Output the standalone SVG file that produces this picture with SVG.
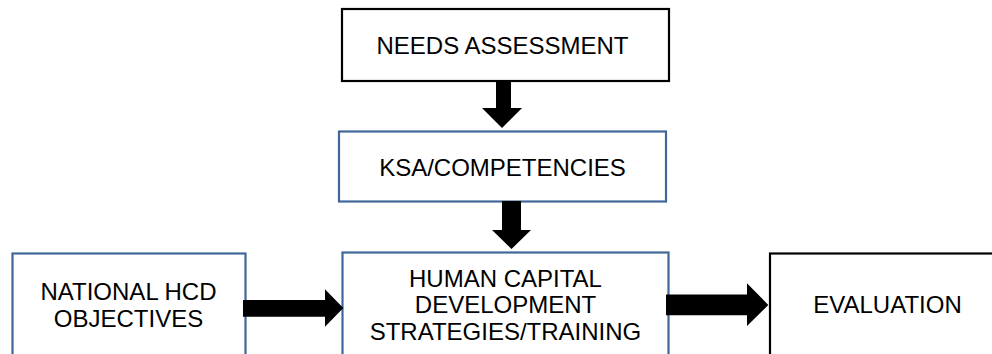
<svg xmlns="http://www.w3.org/2000/svg" width="992" height="354" viewBox="0 0 992 354">
<style>
.box{fill:#fff;stroke-width:2.2}
.blk{stroke:#000}
.blu{stroke:#41679A}
text{font-family:"Liberation Sans",Arial,sans-serif;font-size:24px;fill:#000;text-anchor:middle}
.arr{fill:#000}
</style>
<rect width="992" height="354" fill="#fff"/>
<g id="needs">
<rect class="box blk" x="342" y="9" width="327" height="72"/>
<text x="502.5" y="53.5">NEEDS ASSESSMENT</text>
</g>
<g id="ksa">
<rect class="box blu" x="339" y="131.5" width="327" height="70"/>
<text x="502.5" y="175.5">KSA/COMPETENCIES</text>
</g>
<g id="national">
<rect class="box blu" x="12.5" y="253.5" width="233" height="120"/>
<text x="128.5" y="300">NATIONAL HCD</text>
<text x="128.5" y="326.7">OBJECTIVES</text>
</g>
<g id="hcd">
<rect class="box blu" x="342.5" y="252.5" width="326" height="120"/>
<text x="505.5" y="286.7">HUMAN CAPITAL</text>
<text x="505.5" y="313.3">DEVELOPMENT</text>
<text x="505.5" y="340">STRATEGIES/TRAINING</text>
</g>
<g id="evaluation">
<rect class="box blk" x="770" y="253.5" width="240" height="120"/>
<text x="887.5" y="312.7">EVALUATION</text>
</g>
<g id="connectors">
<polygon class="arr" points="496,81 511,81 511,108 522,108 502,128 482,108 496,108"/>
<polygon class="arr" points="502,201 521,201 521,230 531,230 511.5,249 492,230 502,230"/>
<polygon class="arr" points="243,300 325,300 325,289.3 343.3,308 325,326.7 325,316.7 243,316.7"/>
<polygon class="arr" points="666,294.5 747,294.5 747,283.3 768.3,305 747,326 747,315.3 666,315.3"/>
</g>
</svg>
